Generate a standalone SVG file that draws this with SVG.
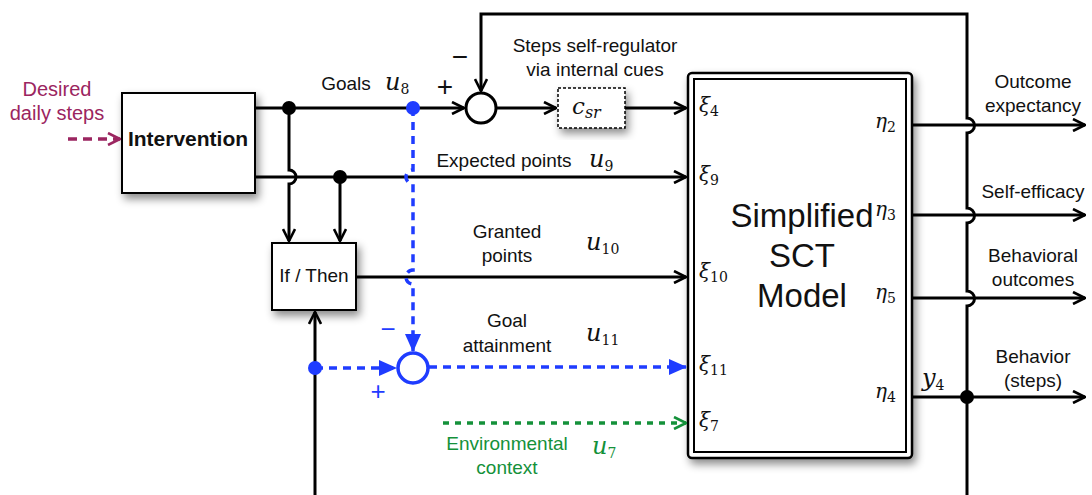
<svg xmlns="http://www.w3.org/2000/svg" width="1092" height="495" viewBox="0 0 1092 495">
<style>
.ln{fill:none;stroke:#000;stroke-width:3}
.bl{fill:none;stroke:#1f3cff;stroke-width:3.5;stroke-dasharray:8 6}
.gr{fill:none;stroke:#14913a;stroke-width:3.5;stroke-dasharray:6 6}
.mg{fill:none;stroke:#9b2560;stroke-width:3.5;stroke-dasharray:9 6}
.t{font-family:"Liberation Sans",Arial,sans-serif;font-size:19px;fill:#111;text-anchor:middle}
.m{font-family:"DejaVu Serif","Liberation Serif",serif;font-style:italic;fill:#111}
.s{font-style:normal;font-size:14px}
.box{fill:#fff;stroke:#000;stroke-width:2}
</style>
<defs>
<marker id="ab" viewBox="0 0 14 14" refX="13" refY="7" markerWidth="14" markerHeight="14" markerUnits="userSpaceOnUse" orient="auto"><path d="M1 1 L13 7 L1 13" fill="none" stroke="#000" stroke-width="2.6"/></marker>
<marker id="ag" viewBox="0 0 14 14" refX="13" refY="7" markerWidth="14" markerHeight="14" markerUnits="userSpaceOnUse" orient="auto"><path d="M1 1 L13 7 L1 13" fill="none" stroke="#14913a" stroke-width="2.6"/></marker>
<marker id="am" viewBox="0 0 14 14" refX="13" refY="7" markerWidth="14" markerHeight="14" markerUnits="userSpaceOnUse" orient="auto"><path d="M1 1 L13 7 L1 13" fill="none" stroke="#9b2560" stroke-width="2.6"/></marker>
<marker id="abl" viewBox="0 0 18 16" refX="17" refY="8" markerWidth="18" markerHeight="16" markerUnits="userSpaceOnUse" orient="auto"><path d="M0 0 L18 8 L0 16 Z" fill="#1f3cff"/></marker>
<filter id="sh" x="-20%" y="-20%" width="150%" height="150%"><feDropShadow dx="3" dy="5" stdDeviation="4" flood-color="#000" flood-opacity="0.45"/></filter>
</defs>

<g id="desired">
<text class="t" x="57" y="96" style="fill:#9b2560;font-size:20px">Desired</text>
<text class="t" x="57" y="120" style="fill:#9b2560;font-size:20px">daily steps</text>
</g>

<g id="intervention">
<rect class="box" x="122" y="93" width="133" height="100" filter="url(#sh)"/>
<text class="t" x="188" y="146" style="font-weight:bold;font-size:21px">Intervention</text>
</g>

<g id="ifthen">
<rect class="box" x="272" y="243" width="84" height="67" filter="url(#sh)"/>
<text class="t" x="314" y="282">If / Then</text>
</g>

<g id="csr">
<rect x="558" y="88" width="67" height="40" fill="#fff" stroke="#000" stroke-width="1.5" stroke-dasharray="3 2" filter="url(#sh)"/>
<text class="m" x="572" y="114" font-size="23">c<tspan font-size="16" dy="4">sr</tspan></text>
</g>

<g id="sum1">
<circle cx="481" cy="108" r="15" fill="#fff" stroke="#000" stroke-width="3"/>
</g>

<g id="sum2">
<circle cx="413" cy="368" r="15" fill="#fff" stroke="#1f3cff" stroke-width="3.5"/>
</g>

<g id="sct">
<rect x="688" y="73" width="224" height="385" rx="4" fill="#fff" stroke="#000" stroke-width="2.5" filter="url(#sh)"/>
<rect x="694" y="79" width="212" height="373" fill="none" stroke="#000" stroke-width="2"/>
<text class="t" x="802" y="227" style="font-size:33px">Simplified</text>
<text class="t" x="802" y="267" style="font-size:33px">SCT</text>
<text class="t" x="802" y="307" style="font-size:33px">Model</text>
<text class="m" x="699" y="112" font-size="20">ξ<tspan class="s" dy="4">4</tspan></text>
<text class="m" x="699" y="181" font-size="20">ξ<tspan class="s" dy="4">9</tspan></text>
<text class="m" x="699" y="278" font-size="20">ξ<tspan class="s" dy="4">10</tspan></text>
<text class="m" x="699" y="371" font-size="20">ξ<tspan class="s" dy="4">11</tspan></text>
<text class="m" x="699" y="427" font-size="20">ξ<tspan class="s" dy="4">7</tspan></text>
<text class="m" x="875" y="128" font-size="20">η<tspan class="s" dy="4">2</tspan></text>
<text class="m" x="875" y="216" font-size="20">η<tspan class="s" dy="4">3</tspan></text>
<text class="m" x="875" y="299" font-size="20">η<tspan class="s" dy="4">5</tspan></text>
<text class="m" x="875" y="398" font-size="20">η<tspan class="s" dy="4">4</tspan></text>
</g>

<g id="connectors">
<path class="mg" d="M68 139 H120" marker-end="url(#am)"/>
<path class="ln" d="M255 108 H464" marker-end="url(#ab)"/>
<path class="ln" d="M255 177 H686" marker-end="url(#ab)"/>
<path class="ln" d="M289 108 V170 A7 7 0 0 1 289 184 V241" marker-end="url(#ab)"/>
<path class="ln" d="M340 177 V241" marker-end="url(#ab)"/>
<path class="ln" d="M356 277 H686" marker-end="url(#ab)"/>
<path class="ln" d="M315 495 V312" marker-end="url(#ab)"/>
<path class="ln" d="M496 108 H556" marker-end="url(#ab)"/>
<path class="ln" d="M625 108 H686" marker-end="url(#ab)"/>
<path class="ln" d="M967 397 V306 A7 7 0 0 0 967 291 V223 A7 7 0 0 0 967 208 V133 A7 7 0 0 0 967 118 V14 H481 V91" marker-end="url(#ab)"/>
<path class="ln" d="M967 397 V495"/>
<path class="ln" d="M912 125 H1085" marker-end="url(#ab)"/>
<path class="ln" d="M912 215 H1085" marker-end="url(#ab)"/>
<path class="ln" d="M912 298 H1085" marker-end="url(#ab)"/>
<path class="ln" d="M912 397 H1085" marker-end="url(#ab)"/>
<path class="bl" d="M413 108 V170 A7 7 0 0 0 413 184 V270 A7 7 0 0 0 413 284 V351" marker-end="url(#abl)"/>
<path class="bl" d="M315 368 H396" marker-end="url(#abl)"/>
<path class="bl" d="M429 367 H686" marker-end="url(#abl)"/>
<path class="gr" d="M443 423 H686" marker-end="url(#ag)"/>
<circle cx="289" cy="108" r="7"/>
<circle cx="340" cy="177" r="7"/>
<circle cx="967" cy="397" r="7"/>
<circle cx="413" cy="108" r="7" fill="#1f3cff"/>
<circle cx="315" cy="368" r="7" fill="#1f3cff"/>
</g>

<g id="labels">
<text class="t" x="346" y="90">Goals</text>
<text class="m" x="385" y="90" font-size="24">u<tspan class="s" font-size="17" dy="4">8</tspan></text>
<text class="t" x="445" y="96" style="font-size:28px">+</text>
<text class="t" x="460" y="66" style="font-size:28px">−</text>
<text class="t" x="595" y="52">Steps self-regulator</text>
<text class="t" x="595" y="76">via internal cues</text>
<text class="t" x="504" y="167">Expected points</text>
<text class="m" x="589" y="167" font-size="24">u<tspan class="s" font-size="17" dy="4">9</tspan></text>
<text class="t" x="507" y="238">Granted</text>
<text class="t" x="507" y="262">points</text>
<text class="m" x="586" y="250" font-size="24">u<tspan class="s" font-size="17" dy="4">10</tspan></text>
<text class="t" x="507" y="327">Goal</text>
<text class="t" x="507" y="352">attainment</text>
<text class="m" x="586" y="341" font-size="24">u<tspan class="s" font-size="17" dy="4">11</tspan></text>
<text class="t" x="388" y="338" style="font-size:26px;fill:#1f3cff">−</text>
<text class="t" x="378" y="400" style="font-size:26px;fill:#1f3cff">+</text>
<text class="t" x="507" y="450" style="fill:#14913a">Environmental</text>
<text class="t" x="507" y="474" style="fill:#14913a">context</text>
<text class="m" x="592" y="454" font-size="24" style="fill:#14913a">u<tspan class="s" font-size="17" dy="4">7</tspan></text>
<text class="t" x="1033" y="88">Outcome</text>
<text class="t" x="1033" y="112">expectancy</text>
<text class="t" x="1033" y="198">Self-efficacy</text>
<text class="t" x="1033" y="262">Behavioral</text>
<text class="t" x="1033" y="286">outcomes</text>
<text class="t" x="1033" y="363">Behavior</text>
<text class="t" x="1033" y="387">(steps)</text>
<text class="m" x="922" y="386" font-size="24">y<tspan class="s" font-size="17" dy="4">4</tspan></text>
</g>
</svg>
